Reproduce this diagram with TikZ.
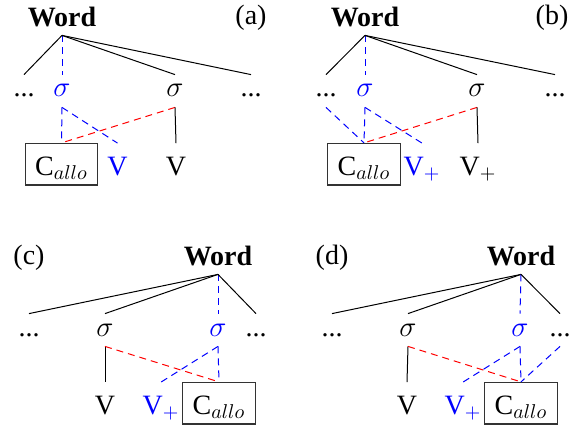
\documentclass[tikz,border=0pt]{standalone}
\usepackage{fontspec}
\setmainfont{Liberation Serif}
\usepackage{tikz}

\begin{document}
\begin{tikzpicture}[x=0.5pt,y=-0.5pt,
  font=\fontsize{14}{17}\selectfont,
  wordnode/.style={font=\fontsize{14}{17}\selectfont\bfseries,anchor=base,inner sep=4.5pt,text depth=0pt},
  panel/.style={anchor=base},
  sylnode/.style={anchor=base,text height=8pt,text depth=2pt,inner ysep=3pt,inner xsep=2pt},
  segnode/.style={anchor=base,text height=11.75pt,text depth=1pt,inner ysep=4pt,inner xsep=5pt},
  allobox/.style={segnode,draw=black!80,line width=0.6pt},
  cued/.style={text=blue},
  tieline/.style={line width=0.5pt},
  cueline/.style={blue,dash pattern=on 3.5pt off 2.5pt,line width=0.5pt},
  clashline/.style={red,dash pattern=on 3.5pt off 2.5pt,line width=0.5pt}
]
\useasboundingbox (0,0) rectangle (579,428);

\begin{scope}
\node[wordnode] (wa) at (62,26) {Word};
\node[panel] (pa) at (251,25) {(a)};
\node[sylnode] (xa) at (24,97) {...};
\node[sylnode,cued] (sa) at (62,97) {$\sigma$};
\node[sylnode] (ta) at (175,97) {$\sigma$};
\node[sylnode] (ya) at (251,97) {...};
\node[allobox] (ca) at (61.5,175) {C$_{allo}$};
\node[segnode,cued] (va) at (117.5,175) {V};
\node[segnode] (ua) at (176,175) {V};
\draw[tieline] (wa.south)--(xa.north);
\draw[cueline] (wa.south)--(sa.north);
\draw[tieline] (wa.south)--(ta.north);
\draw[tieline] (wa.south)--(ya.north);
\draw[cueline] (sa.south)--(ca.north);
\draw[cueline] (sa.south)--(va.north);
\draw[clashline] (ta.south)--(ca.north);
\draw[tieline] (ta.south)--(ua.north);
\end{scope}

\begin{scope}[shift={(303,0)}]
\node[wordnode] (wb) at (62,26) {Word};
\node[panel] (pb) at (249,25) {(b)};
\node[sylnode] (xb) at (23,97) {...};
\node[sylnode,cued] (sb) at (62,97) {$\sigma$};
\node[sylnode] (tb) at (174,97) {$\sigma$};
\node[sylnode] (yb) at (252,97) {...};
\node[allobox] (cb) at (61,175) {C$_{allo}$};
\node[segnode,cued] (vb) at (119,175) {V$_+$};
\node[segnode] (ub) at (175,175) {V$_+$};
\draw[tieline] (wb.south)--(xb.north);
\draw[cueline] (wb.south)--(sb.north);
\draw[tieline] (wb.south)--(tb.north);
\draw[tieline] (wb.south)--(yb.north);
\draw[cueline] (xb.south)--(cb.north);
\draw[cueline] (sb.south)--(cb.north);
\draw[cueline] (sb.south)--(vb.north);
\draw[clashline] (tb.south)--(cb.north);
\draw[tieline] (tb.south)--(ub.north);
\end{scope}

\begin{scope}[shift={(0,239)}]
\node[wordnode] (wc) at (218,26) {Word};
\node[panel] (pc) at (29,25) {(c)};
\node[sylnode] (xc) at (29,97) {...};
\node[sylnode] (tc) at (105,97) {$\sigma$};
\node[sylnode,cued] (sc) at (218,97) {$\sigma$};
\node[sylnode] (yc) at (256,97) {...};
\node[segnode] (uc) at (105,175) {V};
\node[segnode,cued] (vc) at (161,175) {V$_+$};
\node[allobox] (cc) at (219,175) {C$_{allo}$};
\draw[tieline] (wc.south)--(xc.north);
\draw[tieline] (wc.south)--(tc.north);
\draw[cueline] (wc.south)--(sc.north);
\draw[tieline] (wc.south)--(yc.north);
\draw[tieline] (tc.south)--(uc.north);
\draw[clashline] (tc.south)--(cc.north);
\draw[cueline] (sc.south)--(vc.north);
\draw[cueline] (sc.south)--(cc.north);
\end{scope}

\begin{scope}[shift={(303,239)}]
\node[wordnode] (wd) at (218,26) {Word};
\node[panel] (pd) at (29,25) {(d)};
\node[sylnode] (xd) at (29,97) {...};
\node[sylnode] (td) at (105,97) {$\sigma$};
\node[sylnode,cued] (sd) at (217,97) {$\sigma$};
\node[sylnode] (yd) at (257,97) {...};
\node[segnode] (ud) at (104,175) {V};
\node[segnode,cued] (vd) at (160,175) {V$_+$};
\node[allobox] (cd) at (218,175) {C$_{allo}$};
\draw[tieline] (wd.south)--(xd.north);
\draw[tieline] (wd.south)--(td.north);
\draw[cueline] (wd.south)--(sd.north);
\draw[tieline] (wd.south)--(yd.north);
\draw[tieline] (td.south)--(ud.north);
\draw[clashline] (td.south)--(cd.north);
\draw[cueline] (sd.south)--(vd.north);
\draw[cueline] (sd.south)--(cd.north);
\draw[cueline] (yd.south)--(cd.north);
\end{scope}
\end{tikzpicture}
\end{document}
